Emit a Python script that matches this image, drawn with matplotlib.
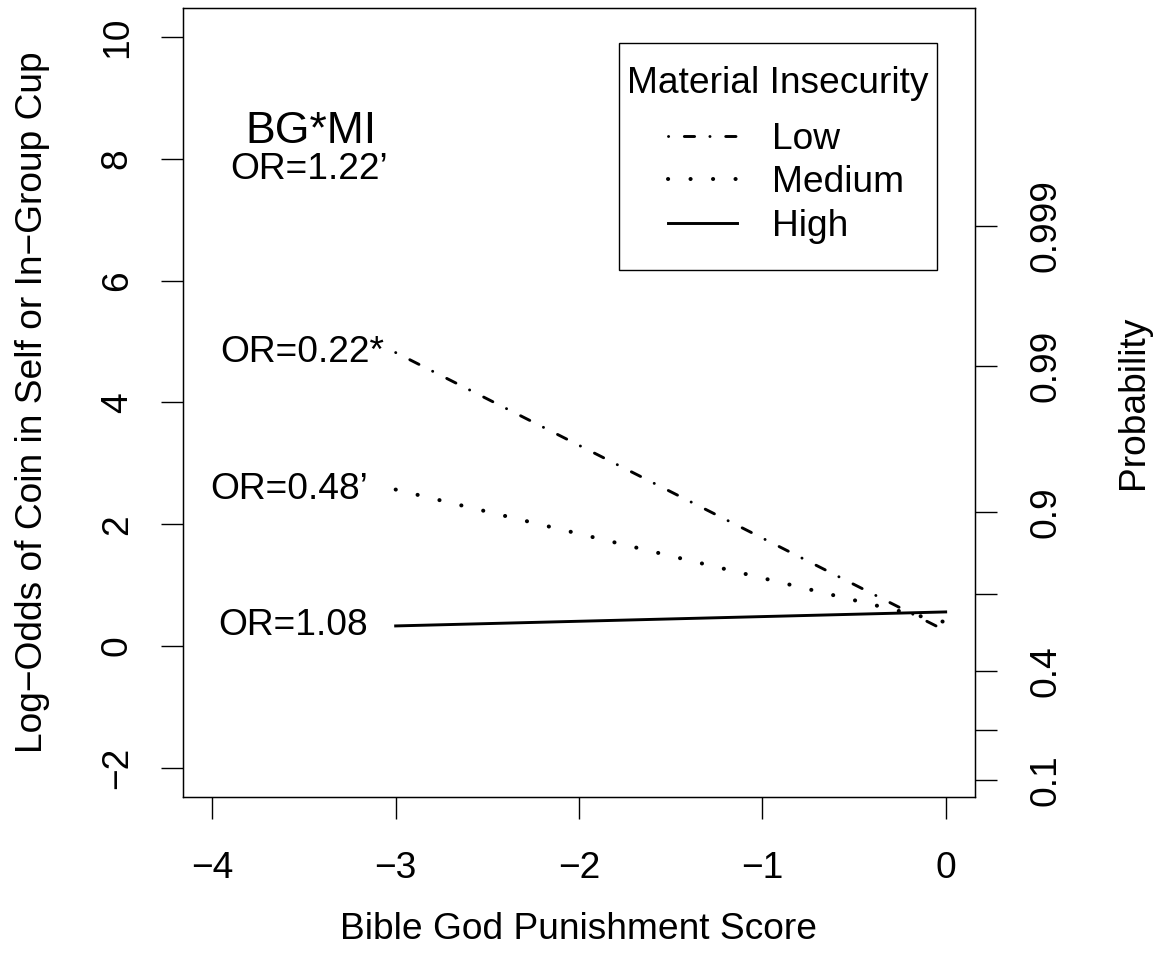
import numpy as np
import matplotlib
matplotlib.use("Agg")
import matplotlib.pyplot as plt
from matplotlib.patches import Rectangle

plt.rcParams['font.family'] = ['Liberation Sans', 'DejaVu Sans']
plt.rcParams['lines.scale_dashes'] = False

# Data (log-odds at BG score -3 and 0)
bg_score = [-3, 0]
levels = ['Low', 'Medium', 'High']
low_logodds = [4.82, 0.25]
medium_logodds = [2.57, 0.39]
high_logodds = [0.33, 0.56]
or_labels = ["OR=0.22*", "OR=0.48\u2019", "OR=1.08"]

x_ticks = [-4, -3, -2, -1, 0]
y_ticks = [-2, 0, 2, 4, 6, 8, 10]
prob_ticks = [0.1, 0.2, 0.4, 0.7, 0.9, 0.99, 0.999]
prob_labels = ['0.1', '', '0.4', '', '0.9', '0.99', '0.999']

fs = 26.7

fig = plt.figure(figsize=(11.57, 9.72), dpi=100)
ax = fig.add_axes([183/1157, 1 - 797/972, 792/1157, 789/972])

# the three lines
l1, = ax.plot(bg_score, low_logodds, color='black', lw=2.1,
              dash_capstyle='round')
l1.set_dashes((0.1, 11.3, 7.4, 11.0))
l2, = ax.plot(bg_score, medium_logodds, color='black', lw=2.9,
              dash_capstyle='round')
l2.set_dashes((0.1, 16.1))
l3, = ax.plot(bg_score, high_logodds, color='black', lw=2.1)

ax.set_xlim(-4.16, 0.16)
ax.set_ylim(-2.48, 10.48)

# axes ticks
ax.set_xticks(x_ticks, [str(t).replace('-', '\u2212') for t in x_ticks])
ax.set_yticks(y_ticks, [str(t).replace('-', '\u2212') for t in y_ticks],
              rotation=90, va='center')
ax.tick_params(axis='x', length=15.8, width=1.0, pad=23, labelsize=fs)
ax.tick_params(axis='y', length=15.8, width=1.0, pad=19, labelsize=fs)
for s in ax.spines.values():
    s.set_linewidth(1.0)

ax.set_xlabel('Bible God Punishment Score', fontsize=fs)
ax.xaxis.set_label_coords(0.5, -0.146)
ax.set_ylabel('Log\u2212Odds of Coin in Self or In\u2212Group Cup', fontsize=fs)
ax.yaxis.set_label_coords(-0.168, 0.5)

# right probability axis
ax2 = ax.twinx()
ax2.set_ylim(ax.get_ylim())
logit = [np.log(p / (1 - p)) for p in prob_ticks]
ax2.set_yticks(logit, prob_labels, rotation=90, va='center')
ax2.tick_params(axis='y', length=15.8, width=1.0, pad=23, labelsize=fs)
ax2.set_ylabel('Probability', fontsize=fs, rotation=90)
ax2.yaxis.set_label_coords(1.178, 0.5)

# annotations
ax.text(-3.46, 8.45, 'BG*MI', fontsize=fs * 1.2, ha='center', va='center')
ax.text(-3.47, 7.82, 'OR=1.22\u2019', fontsize=fs, ha='center', va='center')
ax.text(-3.065, low_logodds[0], or_labels[0], fontsize=fs, ha='right', va='center')
ax.text(-3.15, medium_logodds[0], or_labels[1], fontsize=fs, ha='right', va='center')
ax.text(-3.15, high_logodds[0], or_labels[2], fontsize=fs, ha='right', va='center')

# legend box, title and entries (R style layout)
ax.add_patch(Rectangle((0.5505, 0.668), 0.4015, 0.2876, transform=ax.transAxes,
                       facecolor='white', edgecolor='black', lw=1.0, zorder=4))
ax.text(0.7513, 0.904, 'Material Insecurity', transform=ax.transAxes,
        fontsize=fs, ha='center', va='center', zorder=5)
leg = ax.legend([l1, l2, l3], levels, loc='upper left',
                bbox_to_anchor=(0.6124, 0.856), fontsize=fs, frameon=False,
                handlelength=1.85, handletextpad=0.95, labelspacing=0.23,
                borderpad=0.0, borderaxespad=0.0)
leg.set_zorder(6)

fig.savefig('out.png', dpi=100)
